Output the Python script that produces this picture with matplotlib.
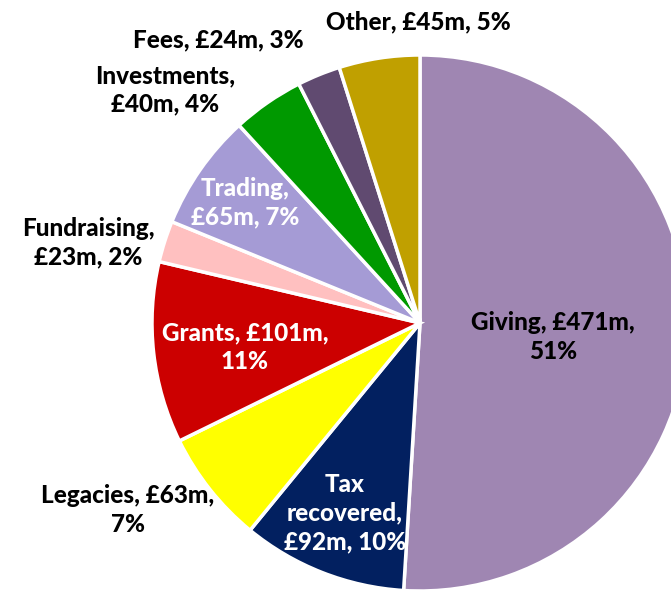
import matplotlib
matplotlib.use("Agg")
import matplotlib.pyplot as plt

# -------------------------------------------------
# Data
# -------------------------------------------------
categories = ["Giving", "Tax recovered", "Legacies", "Grants", "Fundraising",
              "Trading", "Investments", "Fees", "Other"]
values = [471, 92, 63, 101, 23, 65, 40, 24, 45]
percents = [51, 10, 7, 11, 2, 7, 4, 3, 5]
labels = ["Giving, £471m,\n51%",
          "Tax\nrecovered,\n£92m, 10%",
          "Legacies, £63m,\n7%",
          "Grants, £101m,\n11%",
          "Fundraising,\n£23m, 2%",
          "Trading,\n£65m, 7%",
          "Investments,\n£40m, 4%",
          "Fees, £24m, 3%",
          "Other, £45m, 5%"]

colors = ["#9F86B2", "#022060", "#FFFF00", "#CC0000", "#FFC0C0",
          "#A59BD5", "#009900", "#604A70", "#C0A000"]
text_colors = ["black", "white", "black", "white", "black",
               "white", "black", "black", "black"]
# label centres in pixel coordinates (x, y from top)
label_pos = [(553, 337), (345, 513), (128, 510), (245, 347), (88, 243),
             (245, 203), (165, 90), (218, 40), (418, 22)]

W, H = 671, 593
fig = plt.figure(figsize=(W / 100, H / 100), dpi=100)
ax = fig.add_axes([0, 0, 1, 1])

ax.pie(values, colors=colors, startangle=90, counterclock=False,
       center=(420, H - 323), radius=268,
       wedgeprops=dict(edgecolor="white", linewidth=2.5), frame=True)
ax.set_xlim(0, W)
ax.set_ylim(0, H)
ax.set_aspect("equal")
ax.axis("off")

for lab, (x, y), c in zip(labels, label_pos, text_colors):
    ax.text(x, H - y, lab, ha="center", va="center", color=c,
            fontsize=17.5, fontweight="black", family="Lato",
            linespacing=1.3)

fig.savefig("out.png", dpi=100)
